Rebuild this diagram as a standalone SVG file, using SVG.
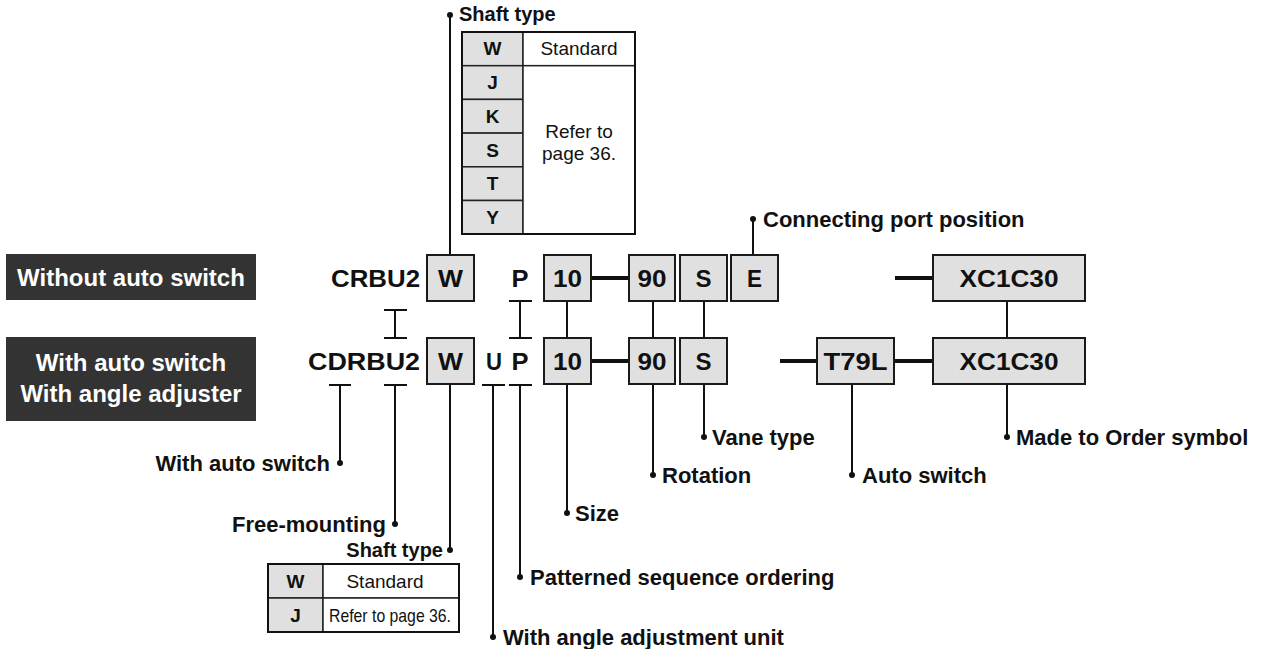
<svg xmlns="http://www.w3.org/2000/svg" width="1264" height="649" viewBox="0 0 1264 649">
<style>
.bx{fill:#e0e0e0;stroke:#1a1a1a;stroke-width:2}
.code{font-family:"Liberation Sans",Arial,sans-serif;font-weight:bold;font-size:23px;fill:#111;text-anchor:middle}
.lbl{font-family:"Liberation Sans",Arial,sans-serif;font-weight:bold;font-size:22px;fill:#111}
.hdr{font-family:"Liberation Sans",Arial,sans-serif;font-weight:bold;font-size:24px;fill:#fff;text-anchor:middle}
.tb{font-family:"Liberation Sans",Arial,sans-serif;font-size:19px;fill:#111;text-anchor:middle}
.tbb{font-family:"Liberation Sans",Arial,sans-serif;font-weight:bold;font-size:19px;fill:#111;text-anchor:middle}
.ln{stroke:#111;stroke-width:2;fill:none}
.dash{stroke:#111;stroke-width:4;fill:none}
.dot{fill:#111}
.tcell{fill:#e0e0e0;stroke:#222;stroke-width:1.5}
.wcell{fill:#fff;stroke:#222;stroke-width:1.5}
</style>
<rect width="1264" height="649" fill="#fff"/>

<g id="header-without">
<rect x="6" y="254" width="250" height="46" fill="#333"/>
<text class="hdr" x="131" y="286">Without auto switch</text>
</g>
<g id="header-with">
<rect x="6" y="337" width="250" height="84" fill="#333"/>
<text class="hdr" x="131" y="371">With auto switch</text>
<text class="hdr" x="131" y="402">With angle adjuster</text>
</g>

<g id="connectors">
<!-- row1 dashes -->
<line class="dash" x1="591" y1="278" x2="629" y2="278"/>
<line class="dash" x1="895" y1="278" x2="933" y2="278"/>
<!-- row2 dashes -->
<line class="dash" x1="591" y1="361" x2="629" y2="361"/>
<line class="dash" x1="780" y1="361" x2="817" y2="361"/>
<line class="dash" x1="894" y1="361" x2="933" y2="361"/>
<!-- I-bars between rows -->
<path class="ln" d="M395 310V338M384 310H407M384 338H407"/>
<path class="ln" d="M520 301V338M509 301H532M509 338H532"/>
<!-- between-row links -->
<path class="ln" d="M567 301V338M653 301V338M704 301V338M1007 301V338"/>
<!-- upward -->
<path class="ln" d="M450 255V15M753 255V219"/>
<!-- downward T bars -->
<path class="ln" d="M340 385V463M329 385H351"/>
<path class="ln" d="M395 385V524M384 385H407"/>
<path class="ln" d="M493 385V637M482 385H505"/>
<path class="ln" d="M520 385V577M509 385H532"/>
<!-- downward from boxes -->
<path class="ln" d="M450 384V550M567 384V513M653 384V475M704 384V437M852 384V475M1007 384V437"/>
<!-- dots -->
<circle class="dot" cx="450" cy="15" r="3"/>
<circle class="dot" cx="753" cy="219" r="3"/>
<circle class="dot" cx="340" cy="463" r="3"/>
<circle class="dot" cx="395" cy="524" r="3"/>
<circle class="dot" cx="450" cy="550" r="3"/>
<circle class="dot" cx="493" cy="637" r="3"/>
<circle class="dot" cx="520" cy="577" r="3"/>
<circle class="dot" cx="567" cy="513" r="3"/>
<circle class="dot" cx="653" cy="475" r="3"/>
<circle class="dot" cx="704" cy="437" r="3"/>
<circle class="dot" cx="852" cy="475" r="3"/>
<circle class="dot" cx="1007" cy="437" r="3"/>
</g>

<g id="row1">
<text class="code" x="420" y="287" text-anchor="end" style="text-anchor:end" textLength="89" lengthAdjust="spacingAndGlyphs">CRBU2</text>
<g id="r1-W"><rect class="bx" x="427" y="255" width="47" height="46"/><text class="code" x="450.5" y="287" textLength="25" lengthAdjust="spacingAndGlyphs">W</text></g>
<text class="code" x="520" y="287" textLength="17" lengthAdjust="spacingAndGlyphs">P</text>
<g id="r1-10"><rect class="bx" x="544" y="255" width="47" height="46"/><text class="code" x="567.5" y="287" textLength="29" lengthAdjust="spacingAndGlyphs">10</text></g>
<g id="r1-90"><rect class="bx" x="629" y="255" width="46" height="46"/><text class="code" x="652" y="287" textLength="29" lengthAdjust="spacingAndGlyphs">90</text></g>
<g id="r1-S"><rect class="bx" x="680" y="255" width="47" height="46"/><text class="code" x="703.5" y="287" textLength="16" lengthAdjust="spacingAndGlyphs">S</text></g>
<g id="r1-E"><rect class="bx" x="731" y="255" width="47" height="46"/><text class="code" x="754.5" y="287" textLength="15" lengthAdjust="spacingAndGlyphs">E</text></g>
<g id="r1-XC"><rect class="bx" x="933" y="255" width="152" height="46"/><text class="code" x="1009" y="287" textLength="99" lengthAdjust="spacingAndGlyphs">XC1C30</text></g>
</g>

<g id="row2">
<text class="code" x="420" y="370" style="text-anchor:end" textLength="112" lengthAdjust="spacingAndGlyphs">CDRBU2</text>
<g id="r2-W"><rect class="bx" x="427" y="338" width="47" height="46"/><text class="code" x="450.5" y="370" textLength="25" lengthAdjust="spacingAndGlyphs">W</text></g>
<text class="code" x="494" y="370" textLength="16" lengthAdjust="spacingAndGlyphs">U</text>
<text class="code" x="520" y="370" textLength="17" lengthAdjust="spacingAndGlyphs">P</text>
<g id="r2-10"><rect class="bx" x="544" y="338" width="47" height="46"/><text class="code" x="567.5" y="370" textLength="29" lengthAdjust="spacingAndGlyphs">10</text></g>
<g id="r2-90"><rect class="bx" x="629" y="338" width="46" height="46"/><text class="code" x="652" y="370" textLength="29" lengthAdjust="spacingAndGlyphs">90</text></g>
<g id="r2-S"><rect class="bx" x="680" y="338" width="47" height="46"/><text class="code" x="703.5" y="370" textLength="16" lengthAdjust="spacingAndGlyphs">S</text></g>
<g id="r2-T79L"><rect class="bx" x="817" y="338" width="77" height="46"/><text class="code" x="855.5" y="370" textLength="64" lengthAdjust="spacingAndGlyphs">T79L</text></g>
<g id="r2-XC"><rect class="bx" x="933" y="338" width="152" height="46"/><text class="code" x="1009" y="370" textLength="99" lengthAdjust="spacingAndGlyphs">XC1C30</text></g>
</g>

<g id="shaft-table-top">
<text class="lbl" x="459" y="21" style="font-size:20px">Shaft type</text>
<rect class="tcell" x="462" y="32" width="61" height="33.7"/>
<rect class="tcell" x="462" y="65.7" width="61" height="33.7"/>
<rect class="tcell" x="462" y="99.4" width="61" height="33.7"/>
<rect class="tcell" x="462" y="133.1" width="61" height="33.7"/>
<rect class="tcell" x="462" y="166.8" width="61" height="33.7"/>
<rect class="tcell" x="462" y="200.5" width="61" height="33.5"/>
<rect class="wcell" x="523" y="32" width="112" height="33.7"/>
<rect class="wcell" x="523" y="65.7" width="112" height="168.3"/>
<rect x="462" y="32" width="173" height="202" fill="none" stroke="#111" stroke-width="2"/>
<text class="tbb" x="492.5" y="55">W</text>
<text class="tbb" x="492.5" y="89">J</text>
<text class="tbb" x="492.5" y="123">K</text>
<text class="tbb" x="492.5" y="157">S</text>
<text class="tbb" x="492.5" y="190">T</text>
<text class="tbb" x="492.5" y="224">Y</text>
<text class="tb" x="579" y="55">Standard</text>
<text class="tb" x="579" y="138">Refer to</text>
<text class="tb" x="579" y="160">page 36.</text>
</g>

<g id="shaft-table-bottom">
<text class="lbl" x="443" y="557" style="font-size:20px;text-anchor:end">Shaft type</text>
<rect class="tcell" x="268" y="564" width="55" height="34"/>
<rect class="tcell" x="268" y="598" width="55" height="34"/>
<rect class="wcell" x="323" y="564" width="136" height="34"/>
<rect class="wcell" x="323" y="598" width="136" height="34"/>
<rect x="268" y="564" width="191" height="68" fill="none" stroke="#111" stroke-width="2"/>
<text class="tbb" x="295.5" y="588">W</text>
<text class="tbb" x="295.5" y="622">J</text>
<text class="tb" x="385" y="588">Standard</text>
<text class="tb" x="390" y="622" textLength="122" lengthAdjust="spacingAndGlyphs">Refer to page 36.</text>
</g>

<g id="labels">
<text class="lbl" x="763" y="227">Connecting port position</text>
<text class="lbl" x="330" y="471" style="text-anchor:end">With auto switch</text>
<text class="lbl" x="386" y="532" style="text-anchor:end">Free-mounting</text>
<text class="lbl" x="575" y="521">Size</text>
<text class="lbl" x="662" y="483">Rotation</text>
<text class="lbl" x="712" y="445">Vane type</text>
<text class="lbl" x="862" y="483">Auto switch</text>
<text class="lbl" x="1016" y="445">Made to Order symbol</text>
<text class="lbl" x="530" y="585">Patterned sequence ordering</text>
<text class="lbl" x="503" y="645">With angle adjustment unit</text>
</g>
</svg>
